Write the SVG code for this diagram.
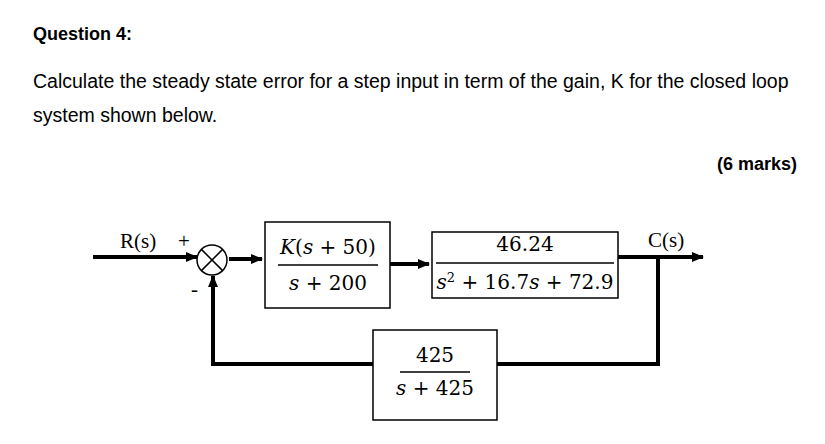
<svg xmlns="http://www.w3.org/2000/svg" width="825" height="444" viewBox="0 0 825 444">
<style>
.h{font-family:"Liberation Sans",Arial,sans-serif;font-size:19.5px;fill:#000}
.b{font-weight:bold;font-size:18px}
.m{font-family:"DejaVu Serif","Liberation Serif",serif;font-size:20px;text-anchor:middle}
.t{font-family:"Liberation Serif",serif;font-size:21px}
.box{fill:#fff;stroke:#000;stroke-width:1.5}
.w{fill:none;stroke:#000;stroke-width:4}
.fl{stroke:#000;stroke-width:1.5}
</style>
<defs><marker id="a" markerUnits="userSpaceOnUse" markerWidth="12" markerHeight="12" refX="11" refY="6" orient="auto"><path d="M0,1L12,6L0,11z"/></marker></defs>
<rect width="825" height="444" fill="#fff"/>
<text class="h b" x="33" y="40">Question 4:</text>
<text class="h" x="33" y="88">Calculate the steady state error for a step input in term of the gain, K for the closed loop</text>
<text class="h" x="33" y="122">system shown below.</text>
<text class="h b" x="797" y="170" text-anchor="end">(6 marks)</text>
<g id="connectors">
<path class="w" d="M93,257H197" marker-end="url(#a)"/>
<path class="w" d="M229,259H262" marker-end="url(#a)"/>
<path class="w" d="M390,264H429" marker-end="url(#a)"/>
<path class="w" d="M618,257H703" marker-end="url(#a)"/>
<path class="w" d="M658,257V364H497"/>
<path class="w" d="M373,364H213V276" marker-end="url(#a)"/>
</g>
<g id="sum"><circle cx="212" cy="260" r="15" fill="#fff" stroke="#000" stroke-width="1.5"/>
<path class="fl" d="M201.4,249.4L222.6,270.6M222.6,249.4L201.4,270.6"/></g>
<g id="labels">
<text class="t" x="120" y="248">R(s)</text>
<text class="t" x="178" y="248">+</text>
<text class="t" x="191" y="296">-</text>
<text class="t" x="648" y="247">C(s)</text>
</g>
<g id="g1"><rect class="box" x="265" y="222" width="125" height="86"/>
<text class="m" x="328" y="254"><tspan font-style="italic">K</tspan>(<tspan font-style="italic">s</tspan> + 50)</text>
<path class="fl" d="M278,265H378"/>
<text class="m" x="328" y="290"><tspan font-style="italic">s</tspan> + 200</text></g>
<g id="g2"><rect class="box" x="432" y="232" width="186" height="66"/>
<text class="m" x="525" y="251">46.24</text>
<path class="fl" d="M436,263H614"/>
<text class="m" x="525" y="289"><tspan font-style="italic">s</tspan><tspan dy="-7" font-size="13">2</tspan><tspan dy="7"> + 16.7</tspan><tspan font-style="italic">s</tspan> + 72.9</text></g>
<g id="h"><rect class="box" x="373" y="330" width="124" height="90"/>
<text class="m" x="435" y="362">425</text>
<path class="fl" d="M400,372H470"/>
<text class="m" x="435" y="395"><tspan font-style="italic">s</tspan> + 425</text></g>
</svg>
